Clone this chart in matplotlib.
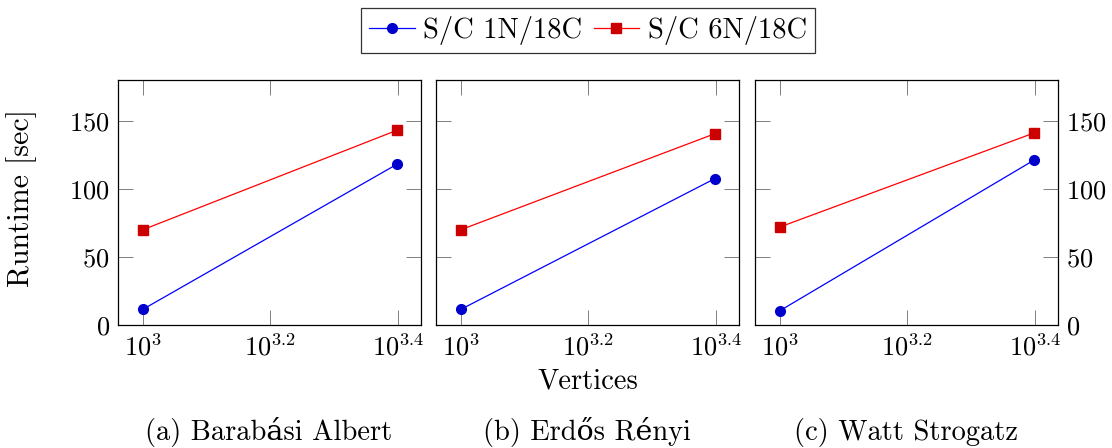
import numpy as np
import matplotlib
matplotlib.use("Agg")
import matplotlib.pyplot as plt

plt.rcParams['font.family'] = ['cmr10', 'DejaVu Serif']
plt.rcParams['mathtext.fontset'] = 'cm'
plt.rcParams['axes.formatter.use_mathtext'] = True
plt.rcParams['axes.unicode_minus'] = False

# data
vertices = [1000, 2500]
titles = ["(a) Barabási Albert", "(b) Erdős Rényi", "(c) Watt Strogatz"]
sc_1n = [[11.5, 118], [11.5, 107.5], [10.5, 121]]
sc_6n = [[70, 143], [70, 140.5], [72, 141]]
series_names = ["S/C 1N/18C", "S/C 6N/18C"]
xticks = [10**3, 10**3.2, 10**3.4]
xtick_labels = [r"$10^{3}$", r"$10^{3.2}$", r"$10^{3.4}$"]
yticks = [0, 50, 100, 150]

fig = plt.figure(figsize=(11.12, 4.48), dpi=100)
lefts = [118, 436, 755]
fs = 19
fs_lab = 20.5

for i in range(3):
    ax = fig.add_axes([lefts[i] / 1112, 1 - 325 / 448, 303 / 1112, 245 / 448])
    l1, = ax.plot(vertices, sc_1n[i], color='#0000ff', lw=0.9, marker='o',
                  ms=7, mfc='#0000cc', mec='#0000cc')
    l2, = ax.plot(vertices, sc_6n[i], color='#ff0000', lw=0.9, marker='s',
                  ms=7, mfc='#cc0000', mec='#cc0000')
    ax.set_xscale('log')
    ax.set_xlim(10**2.961, 10**3.436)
    ax.set_ylim(0, 180)
    ax.set_xticks(xticks)
    ax.set_xticklabels(xtick_labels, fontsize=fs)
    ax.minorticks_off()
    ax.set_yticks(yticks)
    ax.tick_params(direction='in', length=11, width=0.7, color='#808080',
                   top=True, right=True, labelsize=fs, pad=6)
    if i == 0:
        ax.set_ylabel("Runtime [sec]", fontsize=21.5)
        ax.yaxis.set_label_coords(-(118 - 37) / 303, 0.52)
    elif i == 1:
        ax.tick_params(labelleft=False)
        ax.set_xlabel("Vertices", fontsize=fs_lab, labelpad=6)
    else:
        ax.tick_params(labelleft=False, labelright=True)
    for s in ax.spines.values():
        s.set_linewidth(0.9)
    fig.text((lefts[i] + 151) / 1112, 1 - 432 / 448, titles[i], fontsize=fs_lab,
             ha='center', va='center')

leg = fig.legend([l1, l2], series_names, loc='upper center', ncol=2,
                 bbox_to_anchor=(588 / 1112, 1 - 8 / 448), fontsize=fs_lab,
                 frameon=True, fancybox=False, edgecolor='black',
                 handlelength=1.6, handletextpad=0.3, columnspacing=0.4,
                 borderpad=0.28, borderaxespad=0)
leg.get_frame().set_linewidth(0.9)

fig.savefig("out.png", dpi=100)
